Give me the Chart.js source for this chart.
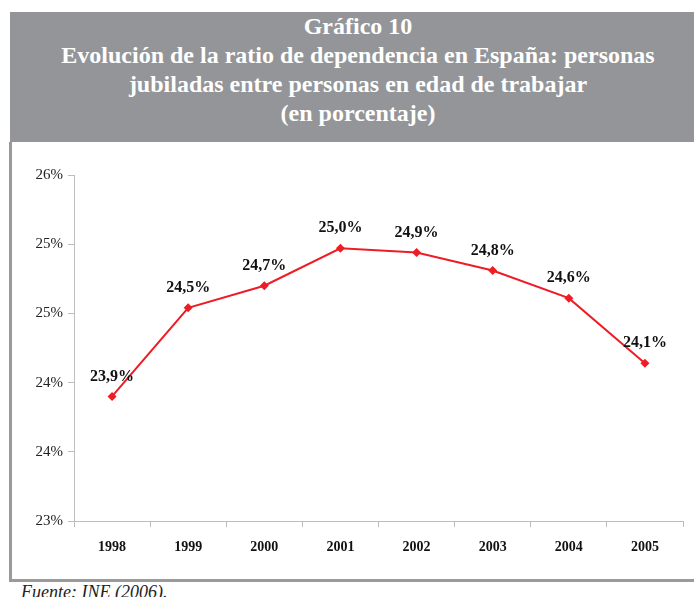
<!DOCTYPE html>
<html lang="es">
<head>
  <meta charset="UTF-8">
  <title>Gráfico 10</title>
  <script src="https://cdn.jsdelivr.net/npm/chart.js"></script>
  <style>
    body { margin: 0; background: #fff; font-family: "Liberation Serif", "DejaVu Serif", serif; }
    .page { position: relative; width: 694px; height: 597px; overflow: hidden; }
    .title-box {
      position: absolute; left: 10px; top: 12px; width: 684px; height: 130px;
      background: #939598; color: #fff; text-align: center;
      font-weight: bold; font-size: 24px; line-height: 29px;
      padding-left: 12px; box-sizing: border-box;
    }
    .left-rule { position: absolute; left: 9px; top: 142px; width: 3px; height: 440px; background: #9a9a9a; }
    .bottom-rule { position: absolute; left: 9px; top: 579px; width: 685px; height: 3px; background: #9a9a9a; }
    .source { position: absolute; left: 21px; top: 582px; font-style: italic; font-size: 18px; color: #222; line-height: 20px; }
    #chart { position: absolute; left: 14px; top: 145px; }
  </style>
</head>
<body>
<div class="page">
  <div class="title-box">
    <div>Gráfico 10</div>
    <div>Evolución de la ratio de dependencia en España: personas</div>
    <div>jubiladas entre personas en edad de trabajar</div>
    <div>(en porcentaje)</div>
  </div>
  <div class="left-rule"></div>
  <canvas id="chart" width="680" height="421"></canvas>
  <div class="bottom-rule"></div>
  <div class="source">Fuente: INE (2006).</div>
</div>
<script>
  const years = ['1998', '1999', '2000', '2001', '2002', '2003', '2004', '2005'];
  const ratio = [23.90, 24.54, 24.70, 24.97, 24.94, 24.81, 24.61, 24.14];
  const yMin = 23, yMax = 25.5, yStep = 0.5;

  const fmt = v => v.toFixed(1).replace('.', ',') + '%';

  // data labels drawn above each point
  const pointLabels = {
    id: 'pointLabels',
    afterDatasetsDraw(chart) {
      const ctx = chart.ctx;
      const meta = chart.getDatasetMeta(0);
      ctx.save();
      ctx.font = 'bold 16px "Liberation Serif", serif';
      ctx.fillStyle = '#111';
      ctx.textAlign = 'center';
      ctx.textBaseline = 'middle';
      meta.data.forEach((pt, i) => {
        ctx.fillText(fmt(ratio[i]), pt.x, pt.y - 20);
      });
      ctx.restore();
    }
  };

  new Chart(document.getElementById('chart'), {
    type: 'line',
    data: {
      labels: years,
      datasets: [{
        data: ratio,
        borderColor: '#ee1c25',
        backgroundColor: '#ee1c25',
        borderWidth: 2,
        pointStyle: 'rectRot',
        pointRadius: 4.5,
        pointBorderWidth: 0,
        tension: 0
      }]
    },
    options: {
      responsive: false,
      animation: false,
      layout: { padding: { top: 30, right: 11, bottom: 0, left: 0 } },
      plugins: { legend: { display: false }, tooltip: { enabled: false } },
      scales: {
        x: {
          offset: true,
          grid: { offset: true, drawOnChartArea: false, tickLength: 6, color: '#bdbdbd' },
          border: { color: '#bdbdbd', width: 1 },
          ticks: {
            color: '#111', padding: 12,
            font: { family: '"Liberation Serif", serif', size: 14, weight: 'bold' }
          },
          afterFit: s => { s.height = 45; }
        },
        y: {
          min: yMin, max: yMax,
          grid: { drawOnChartArea: false, tickLength: 6, color: '#bdbdbd' },
          border: { color: '#bdbdbd', width: 1 },
          ticks: {
            stepSize: yStep, color: '#222', padding: 5,
            font: { family: '"Liberation Serif", serif', size: 15 },
            callback: v => Math.round(v) + '%'
          },
          afterFit: s => { s.width = 60; }
        }
      }
    },
    plugins: [pointLabels]
  });
</script>
</body>
</html>
